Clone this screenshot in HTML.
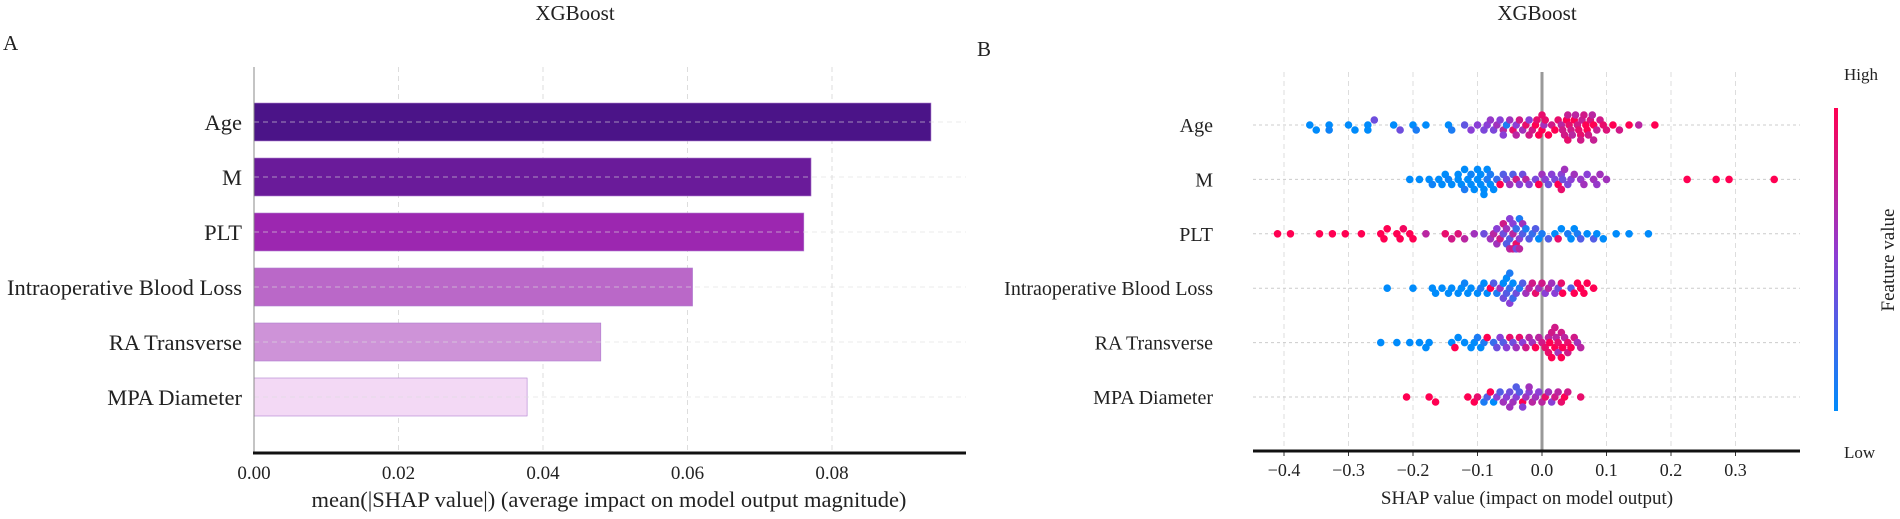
<!DOCTYPE html>
<html><head><meta charset="utf-8"><style>
body{margin:0;background:#fff;}
svg text{font-family:"Liberation Serif",serif;fill:#222;}
</style></head><body>
<svg id="c" width="1900" height="514" xmlns="http://www.w3.org/2000/svg">
<defs><linearGradient id="cb" x1="0" y1="1" x2="0" y2="0">
<stop offset="0" stop-color="#008bfb"/><stop offset="0.5" stop-color="#8a3fd6"/><stop offset="1" stop-color="#ff0052"/></linearGradient></defs>
</svg>
<script>
const features=["Age","M","PLT","Intraoperative Blood Loss","RA Transverse","MPA Diameter"];
const meanAbsShap=[0.0937,0.0771,0.0761,0.0607,0.0480,0.0378];
const barColors=["#4b1488","#6a1b9a","#9c27b0","#ba68c8","#ce93d8","#f3d9f5"];
const barTicks=["0.00","0.02","0.04","0.06","0.08"];
const shapTicks=["−0.4","−0.3","−0.2","−0.1","0.0","0.1","0.2","0.3"];
const shapTickVals=[-0.4,-0.3,-0.2,-0.1,0,0.1,0.2,0.3];
const ageShap=[[-0.36,0],[-0.35,0],[-0.33,0],[-0.33,0.05],[-0.30,0],[-0.29,0],[-0.27,0],[-0.27,0],[-0.26,0.4],[-0.23,0],[-0.22,0.4],[-0.20,0],[-0.195,0.1],[-0.18,0],[-0.145,0],[-0.14,0.1],[-0.12,0.35],[-0.11,0.5],[-0.10,0.5],[-0.09,0.45],[-0.085,0.5],[-0.08,0.55],[-0.075,0.45],[-0.07,0.6],[-0.065,0.5],[-0.06,0.7],[-0.055,0.1],[-0.05,0.6],[-0.045,0.9],[-0.04,0.5],[-0.035,0.8],[-0.03,0.6],[-0.025,0.9],[-0.02,0.5],[-0.015,0.8],[-0.01,1],[-0.008,0.9],[-0.005,1],[0,1],[0,0.9],[0.003,0.6],[0.005,0.9],[0.01,1],[0.015,0.8],[0.02,1],[0.025,0.9],[0.03,0.7],[0.032,0.8],[0.035,0.8],[0.038,1],[0.04,0.75],[0.042,0.9],[0.045,0.8],[0.047,0.7],[0.05,1],[0.052,0.7],[0.055,0.8],[0.057,0.9],[0.06,0.9],[0.062,0.75],[0.065,0.8],[0.068,1],[0.07,1],[0.072,0.8],[0.075,0.85],[0.078,0.7],[0.08,1],[0.085,0.75],[0.09,0.8],[0.095,0.9],[0.1,0.85],[0.11,1],[0.12,0.8],[0.135,1],[0.15,0.7],[0.175,1],[-0.06,0.5],[-0.04,0.7],[-0.02,0.8],[0.04,0.9],[0.06,0.8],[0.08,0.75]];
const mShap=[[-0.205,0],[-0.19,0],[-0.175,0],[-0.17,0.05],[-0.16,0],[-0.155,0],[-0.15,0],[-0.145,0.05],[-0.14,0],[-0.13,0],[-0.125,0],[-0.12,0.1],[-0.115,0],[-0.11,0],[-0.105,0],[-0.1,0],[-0.095,0],[-0.09,0],[-0.085,0.1],[-0.08,0],[-0.075,0],[-0.12,0],[-0.11,0.05],[-0.1,0],[-0.095,0],[-0.09,0],[-0.085,0],[-0.08,0.1],[-0.13,0],[-0.07,0.2],[-0.065,1],[-0.06,0.3],[-0.055,0.4],[-0.05,0.6],[-0.045,0.3],[-0.04,0.8],[-0.035,0.5],[-0.03,0.4],[-0.025,0.7],[-0.02,0.5],[-0.01,0.45],[-0.005,1],[0,0.6],[0.005,0.5],[0.01,0.4],[0.015,0.5],[0.02,0.45],[0.025,1],[0.03,0.5],[0.032,0.4],[0.035,0.6],[0.03,0.9],[0.04,0.45],[0.045,0.5],[0.05,0.6],[0.06,0.55],[0.065,0.6],[0.07,0.5],[0.08,0.6],[0.085,0.55],[0.09,0.6],[0.1,0.6],[0.225,1],[0.27,1],[0.29,1],[0.36,1]];
const pltShap=[[-0.41,1],[-0.39,1],[-0.345,1],[-0.325,1],[-0.305,1],[-0.28,1],[-0.25,1],[-0.245,1],[-0.24,1],[-0.225,1],[-0.22,1],[-0.215,0.95],[-0.205,1],[-0.2,1],[-0.18,0.7],[-0.15,0.9],[-0.14,0.8],[-0.13,0.85],[-0.12,0.7],[-0.105,0.6],[-0.09,0.4],[-0.08,0.6],[-0.075,0.7],[-0.07,0.5],[-0.065,0.8],[-0.06,0.4],[-0.055,0.6],[-0.05,0.3],[-0.045,0.7],[-0.04,0.2],[-0.035,0.5],[-0.03,0.3],[-0.025,0.1],[-0.02,0.3],[-0.015,0.2],[-0.01,0.3],[-0.005,0],[0,0.1],[0.01,0.3],[0.02,0],[0.025,0.9],[0.03,0],[0.04,0.1],[0.045,0],[0.05,0],[0.055,0.1],[0.06,0.3],[0.07,0],[0.08,0.3],[0.085,0],[0.095,0],[0.115,0],[0.135,0],[0.165,0],[-0.07,0.6],[-0.06,0.8],[-0.055,0.3],[-0.05,0.7],[-0.045,0.5],[-0.04,0.9],[-0.04,0.4],[-0.035,0.1],[-0.03,0.6],[-0.05,0.5],[-0.045,0.8],[-0.035,0.7]];
const iblShap=[[-0.24,0],[-0.2,0],[-0.17,0],[-0.165,0],[-0.155,0],[-0.145,0],[-0.14,0],[-0.13,0],[-0.125,0],[-0.12,0.05],[-0.115,0],[-0.11,0],[-0.1,0],[-0.095,0.1],[-0.09,0],[-0.085,0],[-0.08,1],[-0.075,0.3],[-0.07,0.1],[-0.065,0.6],[-0.06,0],[-0.055,0.3],[-0.05,0.2],[-0.045,0],[-0.04,0.4],[-0.035,0.1],[-0.03,0.3],[-0.06,0.4],[-0.055,0],[-0.05,0.5],[-0.045,0.2],[-0.05,0.1],[-0.025,0.6],[-0.02,0.7],[-0.015,0.8],[-0.01,0.9],[-0.005,0.6],[0,0.8],[0.005,0.5],[0.01,0.7],[0.015,0.6],[0.02,0.5],[0.025,0.4],[0.03,0.9],[0.032,1],[0.045,0.3],[0.05,1],[0.055,1],[0.06,1],[0.065,1],[0.07,1],[0.08,1]];
const raShap=[[-0.25,0],[-0.225,0],[-0.205,0],[-0.19,0],[-0.18,0],[-0.175,0],[-0.14,0],[-0.135,1],[-0.13,0],[-0.12,0],[-0.11,0],[-0.105,0],[-0.1,0.1],[-0.095,0],[-0.09,0.1],[-0.085,1],[-0.075,0.2],[-0.07,0.4],[-0.065,0.5],[-0.06,0.3],[-0.055,0.5],[-0.05,0.9],[-0.045,0.4],[-0.04,0.6],[-0.035,0.9],[-0.03,0.5],[-0.025,0.8],[-0.02,0.7],[-0.015,0.6],[-0.01,1],[-0.005,0.7],[0,0.8],[0.005,0.9],[0.01,0.7],[0.012,1],[0.015,0.8],[0.02,1],[0.022,0.7],[0.025,0.9],[0.03,0.8],[0.032,1],[0.035,0.7],[0.04,0.9],[0.045,1],[0.05,0.8],[0.055,0.6],[0.06,0.7],[0.01,0.9],[0.02,0.8],[0.03,1],[0.015,1],[0.025,0.6],[0.04,0.8]];
const mpaShap=[[-0.21,1],[-0.175,1],[-0.165,1],[-0.115,1],[-0.105,1],[-0.1,0.9],[-0.09,0.1],[-0.085,0.3],[-0.08,1],[-0.075,0],[-0.07,0.5],[-0.065,0.3],[-0.06,0.6],[-0.055,0.5],[-0.05,0.4],[-0.045,0.6],[-0.04,0.5],[-0.035,0.3],[-0.03,1],[-0.025,0.6],[-0.02,0.5],[-0.015,0.7],[-0.01,0.6],[-0.005,0.5],[0,0.7],[0.005,0.9],[0.01,0.6],[0.015,0.5],[0.02,0.8],[0.025,0.7],[0.03,0.9],[0.035,1],[0.04,0.8],[0.06,0.9],[-0.05,0.6],[-0.04,0.3],[-0.03,0.5],[-0.02,0.6]];
const swarmData=[ageShap,mShap,pltShap,iblShap,raShap,mpaShap];

const svg=document.getElementById('c');const NS='http://www.w3.org/2000/svg';
function mk(t,a,p){const e=document.createElementNS(NS,t);for(const k in a)e.setAttribute(k,a[k]);(p||svg).appendChild(e);return e;}
function tx(s,a,name){const e=mk('text',a);e.textContent=s;return e;}
// left bar chart
const L0=254,L1=966,LT=67,LB=453;
const bx=v=>L0+v/0.02*144.5;
const rowY=i=>122+i*55;
tx('XGBoost',{x:575,y:20,'font-size':21,'text-anchor':'middle'},'left-title');
tx('A',{x:3,y:50,'font-size':21},'panel-a-label');
barTicks.forEach((t,i)=>{const x=bx(parseFloat(t));
 let g=mk('line',{x1:x,x2:x,y1:LT,y2:LB,stroke:'#ddd','stroke-dasharray':'5,4'});
 tx(t,{x:x,y:479,'font-size':19,'text-anchor':'middle'},'x-tick-label');});
features.forEach((f,i)=>{const y=rowY(i);
 const r=mk('rect',{x:L0,y:y-19,width:bx(meanAbsShap[i])-L0,height:38,fill:barColors[i],stroke:'#b07fd0','stroke-width':0.6});
 
 let g=mk('line',{x1:L0,x2:L1,y1:y,y2:y,stroke:'#ddd','stroke-dasharray':'5,4','stroke-opacity':0.6});
 tx(f,{x:242,y:y+8,'font-size':22.5,'text-anchor':'end'},'y-tick-label');});
let a=mk('line',{x1:L0,x2:L0,y1:LT,y2:LB,stroke:'#888','stroke-width':1});
a=mk('line',{x1:L0-1,x2:L1,y1:LB,y2:LB,stroke:'#111','stroke-width':3});
tx('mean(|SHAP value|) (average impact on model output magnitude)',{x:609,y:507,'font-size':22.5,'text-anchor':'middle'},'x-axis-title');
// right beeswarm
const R0=1253,R1=1800,RT=72,RB=451;
const sx=v=>1542+v*645;
const sy=i=>125+i*54.4;
tx('XGBoost',{x:1537,y:20,'font-size':21,'text-anchor':'middle'},'right-title');
tx('B',{x:977,y:56,'font-size':21},'panel-b-label');
shapTickVals.forEach((v,i)=>{const x=sx(v);
 let g=mk('line',{x1:x,x2:x,y1:RT,y2:RB,stroke:'#ddd','stroke-dasharray':'5,4'});
 g=mk('line',{x1:x,x2:x,y1:RB,y2:RB+5,stroke:'#333'});
 tx(shapTicks[i],{x:x,y:476,'font-size':18,'text-anchor':'middle'},'shap-tick-label');});
function col(t){const s=[[0,139,251],[138,63,214],[255,0,82]];let a,b,u;if(t<0.5){a=s[0];b=s[1];u=t*2;}else{a=s[1];b=s[2];u=(t-0.5)*2;}
 return 'rgb('+a.map((c,k)=>Math.round(c+(b[k]-c)*u)).join(',')+')';}
features.forEach((f,i)=>{const y=sy(i);
 let g=mk('line',{x1:R0,x2:R1,y1:y,y2:y,stroke:'#ccc','stroke-dasharray':'3,3'});
 tx(f,{x:1213,y:y+7,'font-size':20,'text-anchor':'end'},'feature-label');});
let z=mk('line',{x1:sx(0),x2:sx(0),y1:RT,y2:RB,stroke:'#999','stroke-width':3});
features.forEach((f,i)=>{const y0=sy(i);const pts=swarmData[i].slice().sort((p,q)=>p[0]-q[0]);const placed=[];
 pts.forEach(p=>{const x=sx(p[0]);let off=0;
  for(let k=0;k<30;k++){off=(k%2?1:-1)*Math.ceil(k/2)*5;
   if(!placed.some(q=>Math.abs(q[0]-x)<7&&Math.abs(q[1]-off)<5))break;}
  off=Math.max(-15,Math.min(15,off));
  placed.push([x,off]);
  const c=mk('circle',{cx:x,cy:y0+off,r:3.8,fill:col(p[1])});
  
  });});
a=mk('line',{x1:R0,x2:R1,y1:RB,y2:RB,stroke:'#111','stroke-width':3});
tx('SHAP value (impact on model output)',{x:1527,y:504,'font-size':19,'text-anchor':'middle'},'shap-axis-title');
const cb=mk('rect',{x:1834,y:108,width:4,height:303,fill:'url(#cb)'});
tx('High',{x:1844,y:80,'font-size':17},'colorbar-high');
tx('Low',{x:1844,y:458,'font-size':17},'colorbar-low');
tx('Feature value',{x:1894,y:260,'font-size':19,'text-anchor':'middle',transform:'rotate(-90 1894 260)'},'colorbar-title');
</script>
</body></html>
